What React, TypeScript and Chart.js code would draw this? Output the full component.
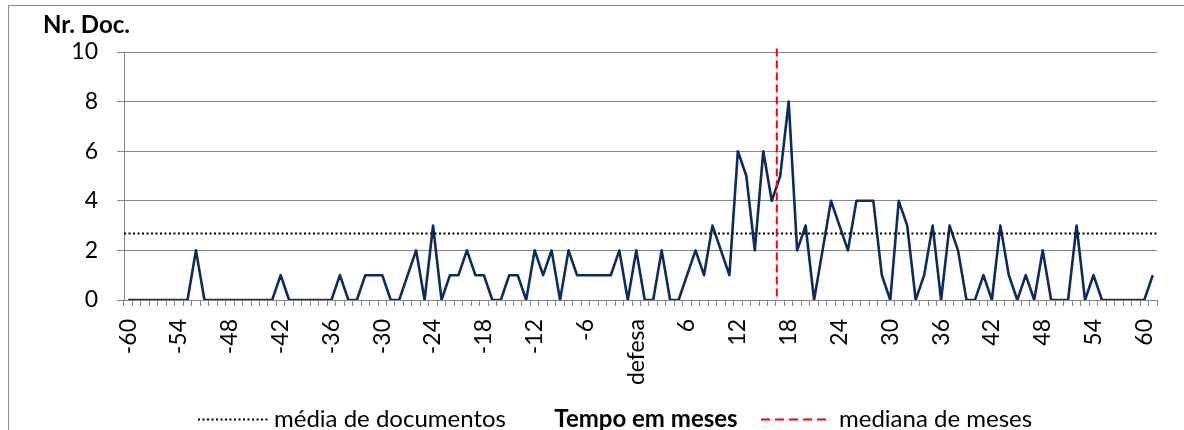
import React, { useEffect, useRef } from 'react';
import { Chart, registerables } from 'chart.js';

Chart.register(...registerables);

// Months relative to the defence (x categories)
const MONTHS: number[] = [
  -60, -59, -58, -57, -56, -55, -54, -53, -52, -51,
  -50, -49, -48, -47, -46, -45, -44, -43, -42, -41,
  -40, -39, -38, -37, -36, -35, -34, -33, -32, -31,
  -30, -29, -28, -27, -26, -25, -24, -23, -22, -21,
  -20, -19, -18, -17, -16, -15, -14, -13, -12, -11,
  -10, -9, -8, -7, -6, -5, -4, -3, -2, -1,
  0, 1, 2, 3, 4, 5, 6, 7, 8, 9,
  10, 11, 12, 13, 14, 15, 16, 17, 18, 19,
  20, 21, 22, 23, 24, 25, 26, 27, 28, 29,
  30, 31, 32, 33, 34, 35, 36, 37, 38, 39,
  40, 41, 42, 43, 44, 45, 46, 47, 48, 49,
  50, 51, 52, 53, 54, 55, 56, 57, 58, 59,
  60, 61,
];

// Number of documents per month
const DOCS: number[] = [
  0, 0, 0, 0, 0, 0, 0, 0, 2, 0,
  0, 0, 0, 0, 0, 0, 0, 0, 1, 0,
  0, 0, 0, 0, 0, 1, 0, 0, 1, 1,
  1, 0, 0, 1, 2, 0, 3, 0, 1, 1,
  2, 1, 1, 0, 0, 1, 1, 0, 2, 1,
  2, 0, 2, 1, 1, 1, 1, 1, 2, 0,
  2, 0, 0, 2, 0, 0, 1, 2, 1, 3,
  2, 1, 6, 5, 2, 6, 4, 5, 8, 2,
  3, 0, 2, 4, 3, 2, 4, 4, 4, 1,
  0, 4, 3, 0, 1, 3, 0, 3, 2, 0,
  0, 1, 0, 3, 1, 0, 1, 0, 2, 0,
  0, 0, 3, 0, 1, 0, 0, 0, 0, 0,
  0, 1,
];

// Labelled ticks on the x axis
const TICK_MONTHS: number[] = [-60, -54, -48, -42, -36, -30, -24, -18, -12, -6, 0, 6, 12, 18, 24, 30, 36, 42, 48, 54, 60];
const TICK_TEXT: string[] = ['-60', '-54', '-48', '-42', '-36', '-30', '-24', '-18', '-12', '-6', 'defesa', '6', '12', '18', '24', '30', '36', '42', '48', '54', '60'];

const Y_LABELS: number[] = [0, 2, 4, 6, 8, 10];

const MEAN_DOCS = 2.7; // média de documentos
const MEDIAN_MONTH = 16.6; // mediana de meses

const Y_TITLE = 'Nr. Doc.';
const X_TITLE = 'Tempo em meses';
const LEGEND_MEAN = 'média de documentos';
const LEGEND_MEDIAN = 'mediana de meses';

const FONT = 'Lato, "Open Sans", sans-serif';

const overlay = {
  id: 'overlay',
  afterDatasetsDraw(chart: any) {
    const { ctx, chartArea, scales } = chart;
    const x = scales.x;
    const y = scales.y;
    ctx.save();
    // mean line (horizontal dotted)
    const yMean = Math.round(y.getPixelForValue(MEAN_DOCS)) + 0.5;
    ctx.strokeStyle = '#000000';
    ctx.lineWidth = 2;
    ctx.setLineDash([2, 2.5]);
    ctx.beginPath();
    ctx.moveTo(chartArea.left, yMean);
    ctx.lineTo(chartArea.right + 1, yMean);
    ctx.stroke();

    // median line (vertical dashed red)
    const idx = MONTHS.indexOf(0) + MEDIAN_MONTH;
    const xMed = x.getPixelForValue(idx);
    ctx.strokeStyle = '#ff0000';
    ctx.lineWidth = 2;
    ctx.setLineDash([8, 4]);
    ctx.beginPath();
    ctx.moveTo(xMed, y.getPixelForValue(10.14));
    ctx.lineTo(xMed, chartArea.bottom);
    ctx.stroke();
    ctx.restore();
  },
  afterDraw(chart: any) {
    const { ctx } = chart;
    ctx.save();
    ctx.fillStyle = '#000000';
    ctx.textBaseline = 'alphabetic';
    // y title
    ctx.font = `bold 24px ${FONT}`;
    ctx.textAlign = 'left';
    ctx.fillText(Y_TITLE, 43, 33);

    const base = 427;
    const ly = 419.5;
    // legend mean
    ctx.strokeStyle = '#000000';
    ctx.lineWidth = 2;
    ctx.setLineDash([2, 2.5]);
    ctx.beginPath();
    ctx.moveTo(198, ly);
    ctx.lineTo(268, ly);
    ctx.stroke();
    ctx.font = `24px ${FONT}`;
    ctx.textAlign = 'right';
    ctx.fillText(LEGEND_MEAN, 506, base);

    // x title
    ctx.font = `bold 24px ${FONT}`;
    ctx.textAlign = 'center';
    ctx.fillText(X_TITLE, 646, base);

    // legend median
    ctx.strokeStyle = '#ff0000';
    ctx.setLineDash([9, 5]);
    ctx.beginPath();
    ctx.moveTo(761, ly);
    ctx.lineTo(830, ly);
    ctx.stroke();
    ctx.textAlign = 'left';
    ctx.font = `24px ${FONT}`;
    ctx.fillText(LEGEND_MEDIAN, 839, base);
    ctx.restore();
  },
};

export default function App() {
  const canvasRef = useRef<HTMLCanvasElement | null>(null);

  useEffect(() => {
    const canvas = canvasRef.current;
    if (!canvas) return;
    const chart = new Chart(canvas, {
      type: 'line',
      data: {
        labels: MONTHS.map(String),
        datasets: [
          {
            label: 'Nr. Doc.',
            data: DOCS,
            borderColor: '#0c2a63',
            borderWidth: 2.6,
            borderJoinStyle: 'round',
            pointRadius: 0,
            tension: 0,
            fill: false,
          },
        ],
      },
      options: {
        responsive: false,
        animation: false,
        events: [],
        layout: { padding: { top: 52, right: 27, left: 0, bottom: 0 } },
        plugins: {
          legend: { display: false },
          title: { display: false },
          tooltip: { enabled: false },
        },
        scales: {
          x: {
            type: 'category',
            offset: true,
            grid: {
              offset: true,
              drawOnChartArea: false,
              drawTicks: true,
              tickLength: 6,
              color: '#868686',
              lineWidth: 1,
            },
            border: { display: true, color: '#868686', width: 1 },
            ticks: {
              autoSkip: false,
              minRotation: 90,
              maxRotation: 90,
              padding: 13,
              color: '#000000',
              font: { family: FONT, size: 23 },
              callback: (_v: any, i: number) => {
                const k = TICK_MONTHS.indexOf(MONTHS[i]);
                return k >= 0 ? TICK_TEXT[k] : '';
              },
            },
            afterFit: (s: any) => {
              s.height = 130;
              s.paddingLeft = 0;
              s.paddingRight = 0;
            },
          },
          y: {
            min: 0,
            max: 10,
            grid: {
              color: (c: any) => (c.tick && Y_LABELS.includes(c.tick.value) ? '#868686' : 'rgba(0,0,0,0)'),
              tickColor: '#868686',
              tickLength: 7,
              lineWidth: 1,
            },
            border: { display: true, color: '#868686', width: 1 },
            ticks: {
              stepSize: 1,
              padding: 19,
              color: '#000000',
              font: { family: FONT, size: 23 },
              callback: (v: any) => (Y_LABELS.includes(v) ? String(v) : ''),
            },
            afterFit: (s: any) => {
              s.width = 124;
              s.paddingTop = 0;
              s.paddingBottom = 0;
            },
          },
        },
      },
      plugins: [overlay],
    });
    return () => chart.destroy();
  }, []);

  return (
    <div style={{ position: 'fixed', left: 0, top: 0, width: 1184, height: 430, background: '#ffffff', overflow: 'hidden' }}>
      <div
        style={{
          position: 'absolute',
          left: 8,
          top: 5,
          width: 1200,
          height: 450,
          border: '1px solid #8a8a8a',
          boxSizing: 'border-box',
        }}
      />
      <canvas ref={canvasRef} width={1184} height={430} style={{ position: 'absolute', left: 0, top: 0, display: 'block' }} />
    </div>
  );
}
